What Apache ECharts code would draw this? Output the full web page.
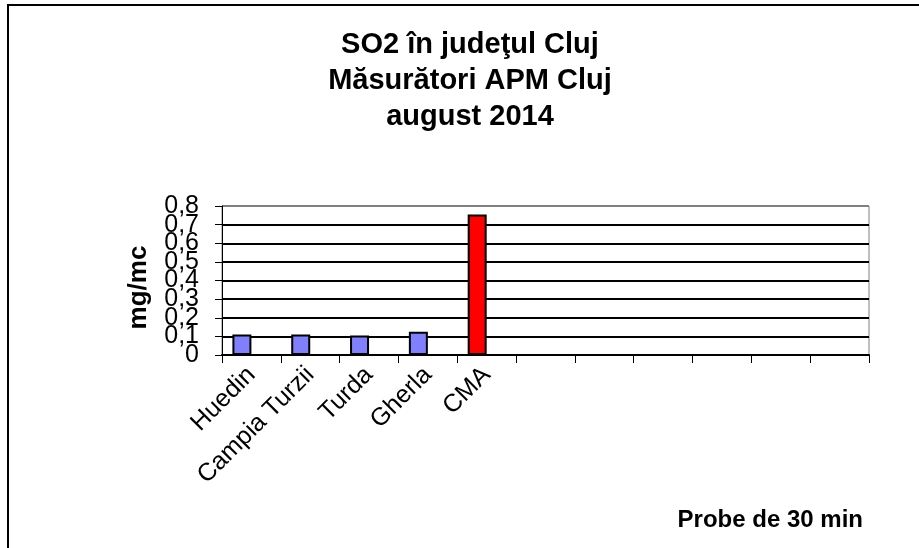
<!DOCTYPE html>
<html>
<head>
<meta charset="utf-8">
<script src="https://cdn.jsdelivr.net/npm/echarts@6/dist/echarts.min.js"></script>
<style>html,body{margin:0;padding:0;background:#fff}#c{width:919px;height:548px}</style>
</head>
<body>
<div id="c"></div>
<script>
const categories = ["Huedin", "Campia Turzii", "Turda", "Gherla", "CMA", "", "", "", "", "", ""];
const so2Values = [0.11, 0.11, 0.105, 0.125, 0.755, null, null, null, null, null, null];
const barColors = ["#8080FF", "#8080FF", "#8080FF", "#8080FF", "#FF0000"];
const yTicksEven = [0, 0.2, 0.4, 0.6, 0.8];
const yTicksOdd = [0.1, 0.3, 0.5, 0.7];
const titleLines = ["SO2 în judeţul Cluj", "Măsurători APM Cluj", "august 2014"];
const yName = "mg/mc";
const xName = "Probe de 30 min";

const chart = echarts.init(document.getElementById('c'), null, {renderer: 'canvas'});
const F = 'Liberation Sans, Arial, sans-serif';
const fmt = v => String(Math.round(v * 10) / 10).replace('.', ',');
const labelStyle = {fontFamily: F, fontSize: 25, color: '#000', margin: 23, formatter: fmt};
chart.setOption({
  animation: false,
  backgroundColor: '#fff',
  title: {
    text: titleLines.join('\n'),
    left: 465, top: 22, textAlign: 'center',
    textStyle: {fontFamily: F, fontWeight: 'bold', fontSize: 29, lineHeight: 36, color: '#000'}
  },
  graphic: [
    {type: 'polyline', shape: {points: [[8, 548], [8, 5], [919, 5]]}, style: {stroke: '#000', lineWidth: 2, fill: null}},
    {type: 'text', right: 56, top: 508, style: {text: xName, font: 'bold 24px ' + F, fill: '#000'}}
  ],
  grid: {left: 222, top: 206, right: 50, bottom: 193, show: true, borderColor: '#808080', borderWidth: 1},
  xAxis: {
    type: 'category', data: categories,
    axisLine: {lineStyle: {color: '#000', width: 2}},
    axisTick: {show: true, length: 8, lineStyle: {color: '#000', width: 1}, interval: 0},
    axisLabel: {interval: 0, rotate: 45, fontFamily: F, fontSize: 25, color: '#000', margin: 16},
    splitLine: {show: false}
  },
  yAxis: [{
    type: 'value', position: 'left', min: 0, max: 0.8, interval: 0.1,
    name: yName, nameLocation: 'middle', nameGap: 70,
    nameTextStyle: {fontFamily: F, fontWeight: 'bold', fontSize: 26, color: '#000', padding: [0, 14, 0, 0]},
    axisLine: {show: true, lineStyle: {color: '#000', width: 1}},
    axisTick: {show: true, length: 7, lineStyle: {color: '#000'}},
    axisLabel: Object.assign({customValues: yTicksEven, showMinLabel: true, showMaxLabel: true}, labelStyle),
    splitLine: {show: true, lineStyle: {color: ['#000', '#000', '#000', '#000', '#000', '#000', '#000', '#000', '#808080'], width: 2}}
  }, {
    type: 'value', position: 'left', min: 0, max: 0.8, interval: 0.1,
    axisLine: {show: false}, axisTick: {show: false}, splitLine: {show: false},
    axisLabel: Object.assign({customValues: yTicksOdd, showMinLabel: true, showMaxLabel: true}, labelStyle)
  }],
  series: [{
    type: 'bar', barWidth: 19, barGap: 0, yAxisIndex: 0,
    data: so2Values.map((v, i) => v == null ? null : {value: v, itemStyle: {color: barColors[i]}}),
    itemStyle: {borderColor: '#000', borderWidth: 2}
  }, {
    type: 'bar', barWidth: 19, barGap: 0, yAxisIndex: 0,
    data: categories.map(() => null)
  }]
});
</script>
</body>
</html>
